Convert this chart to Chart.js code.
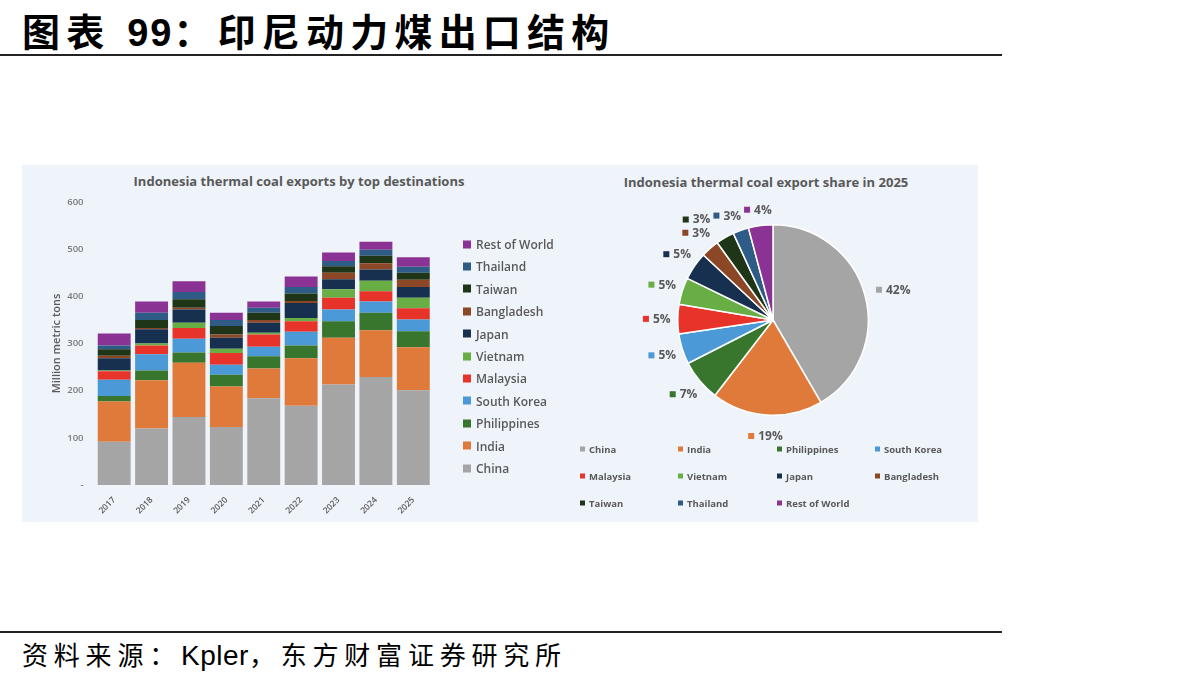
<!DOCTYPE html>
<html>
<head>
<meta charset="utf-8">
<script src="https://cdn.jsdelivr.net/npm/chart.js@4"></script>
<style>
  body { margin: 0; width: 1192px; height: 685px; background: #fff; position: relative; overflow: hidden; }
  .abs { position: absolute; }
  #title { left: 22px; top: 2px; font: 700 38px "Liberation Sans", "Noto Sans CJK SC", sans-serif; letter-spacing: 6.2px; color: #000; white-space: nowrap; }
  #title span { letter-spacing: 2px; }
  .rule { left: 0; width: 1002px; height: 2px; background: #222; }
  #source { left: 22px; top: 635px; font: 400 26px "Liberation Sans", "Noto Sans CJK SC", sans-serif; letter-spacing: 5.8px; color: #000; white-space: nowrap; }
  #source span { letter-spacing: 0.5px; font-size: 28px; }
  #panel { left: 22px; top: 165px; width: 956px; height: 357px; background: #eff3fa; }
  .ctitle { font: 700 13px "Open Sans", sans-serif; color: #595959; white-space: nowrap; transform: translate(-50%, -50%); }
  .leg { font: 600 12px "Open Sans", sans-serif; color: #595959; white-space: nowrap; display: flex; align-items: center; transform: translateY(-50%); }
  .leg i { display: inline-block; width: 8px; height: 8px; margin-right: 5px; }
  .pleg { font: 700 9.5px "Open Sans", sans-serif; color: #595959; white-space: nowrap; display: flex; align-items: center; transform: translateY(-50%); }
  .pleg i { display: inline-block; width: 5px; height: 5px; margin-right: 4px; }
</style>
</head>
<body>
<div id="title" class="abs">图表 <span>99</span>：印尼动力煤出口结构</div>
<div class="abs rule" style="top:54px"></div>
<div id="panel" class="abs"></div>
<div class="abs ctitle" style="left:299px; top:181px">Indonesia thermal coal exports by top destinations</div>
<div class="abs ctitle" style="left:766px; top:182px">Indonesia thermal coal export share in 2025</div>
<canvas id="barChart" class="abs" style="left:22px; top:165px" width="540" height="357"></canvas>
<canvas id="pieChart" class="abs" style="left:560px; top:165px" width="418" height="357"></canvas>
<div id="barLegend"></div>
<div id="pieLegend"></div>
<div class="abs rule" style="top:631px"></div>
<div id="source" class="abs">资料来源：<span>Kpler</span>，东方财富证券研究所</div>

<script>
const years = ["2017", "2018", "2019", "2020", "2021", "2022", "2023", "2024", "2025"];
const destinations = ["China", "India", "Philippines", "South Korea", "Malaysia", "Vietnam", "Japan", "Bangladesh", "Taiwan", "Thailand", "Rest of World"];

// million metric tons
const china = [92, 120, 144, 123, 184, 168, 213, 229, 201];
const india = [85, 102, 115, 86, 63, 101, 99, 99, 91];
const philippines = [12, 21, 22, 25, 26, 27, 35, 37, 34];
const southKorea = [34, 34, 29, 21, 20, 29, 25, 24, 25];
const malaysia = [18, 19, 23, 25, 26, 22, 25, 22, 24];
const vietnam = [2, 4, 11, 9, 4, 7, 18, 22, 22];
const japan = [26, 30, 28, 23, 21, 32, 21, 24, 23];
const bangladesh = [5, 3, 4, 7, 6, 4, 14, 13, 15];
const taiwan = [14, 17, 18, 18, 15, 16, 14, 16, 15];
const thailand = [8, 15, 15, 13, 11, 14, 11, 13, 13];
const restOfWorld = [25, 24, 23, 15, 13, 22, 18, 17, 20];

const yTicks = [0, 100, 200, 300, 400, 500, 600];

const colors = ["#a5a5a5", "#e07a3b", "#38752d", "#4b99d6", "#e8332a", "#69ae45", "#17304f", "#8c4727", "#1e3518", "#2f5c86", "#8b3395"];
const series = [china, india, philippines, southKorea, malaysia, vietnam, japan, bangladesh, taiwan, thailand, restOfWorld];

const grayText = "#595959";

// bar chart
new Chart(document.getElementById("barChart"), {
  type: "bar",
  data: {
    labels: years,
    datasets: destinations.map((name, i) => ({
      label: name,
      data: series[i],
      backgroundColor: colors[i],
      borderWidth: 0,
      barPercentage: 0.88,
      categoryPercentage: 1
    }))
  },
  options: {
    responsive: false,
    animation: false,
    layout: { padding: { top: 37, left: 28, right: 130, bottom: 4 } },
    plugins: {
      legend: { display: false },
      tooltip: { enabled: false }
    },
    scales: {
      x: {
        stacked: true,
        grid: { display: false },
        border: { display: false },
        ticks: {
          color: grayText,
          font: { family: "Open Sans", size: 8.5, weight: "600" },
          minRotation: 45,
          maxRotation: 45,
          padding: 2
        }
      },
      y: {
        stacked: true,
        min: yTicks[0],
        max: yTicks[yTicks.length - 1],
        afterBuildTicks: axis => { axis.ticks = yTicks.map(v => ({ value: v })); },
        grid: { display: false },
        border: { display: false },
        ticks: {
          color: "#7a7a7a",
          font: { family: "Open Sans", size: 9.5, weight: "600" },
          padding: 4,
          callback: v => v === 0 ? "-" : v
        },
        title: {
          display: true,
          text: "Million metric tons",
          color: grayText,
          font: { family: "Open Sans", size: 11, weight: "600" },
          padding: { top: 0, bottom: 0 }
        }
      }
    }
  }
});

// bar legend, reversed like the stack
const barLegend = document.getElementById("barLegend");
destinations.slice().reverse().forEach((name, k) => {
  const i = destinations.length - 1 - k;
  const d = document.createElement("div");
  d.className = "abs leg";
  d.style.left = "463px";
  d.style.top = (244 + k * 22.4) + "px";
  d.innerHTML = '<i style="background:' + colors[i] + '"></i>' + name;
  barLegend.appendChild(d);
});

// pie of the last year
const last = years.length - 1;
const share = series.map(s => s[last]);
const total = share.reduce((a, b) => a + b, 0);

const pieLabels = {
  id: "pieLabels",
  afterDatasetsDraw(chart) {
    const ctx = chart.ctx;
    const arcs = chart.getDatasetMeta(0).data;
    ctx.save();
    ctx.font = "700 12px 'Open Sans'";
    ctx.textBaseline = "middle";
    const placed = [];
    for (let i = arcs.length - 1; i >= 0; i--) {
      const a = arcs[i];
      const mid = (a.startAngle + a.endAngle) / 2;
      const r = a.outerRadius + 21;
      const text = Math.round(share[i] / total * 100) + "%";
      const w = 10 + ctx.measureText(text).width;
      let x = a.x + Math.cos(mid) * r + (Math.cos(mid) > 0.5 ? 8 : 0);
      const y = a.y + Math.sin(mid) * r + (Math.sin(mid) < -0.9 ? 5 : 0);
      // push left-side labels sideways if they hit the previous one
      if (x < a.x) {
        placed.forEach(p => {
          if (Math.abs(p.y - y) < 13 && x + w / 2 > p.x - p.w / 2 - 3 && x - w / 2 < p.x + p.w / 2) {
            x = p.x - p.w / 2 - 3 - w / 2;
          }
        });
      }
      placed.push({ x, y, w });
      const left = x - w / 2;
      ctx.fillStyle = colors[i];
      ctx.fillRect(left, y - 3, 6, 6);
      ctx.fillStyle = grayText;
      ctx.fillText(text, left + 10, y + 0.5);
    }
    ctx.restore();
  }
};

new Chart(document.getElementById("pieChart"), {
  type: "pie",
  data: {
    labels: destinations,
    datasets: [{
      data: share,
      backgroundColor: colors,
      borderColor: "#ffffff",
      borderWidth: 1.5
    }]
  },
  options: {
    responsive: false,
    animation: false,
    layout: { padding: { left: 117, right: 109, top: 59, bottom: 106 } },
    plugins: {
      legend: { display: false },
      tooltip: { enabled: false }
    }
  },
  plugins: [pieLabels]
});

// pie legend, 4 columns
const pieLegend = document.getElementById("pieLegend");
const colX = [580, 678, 777, 875];
const rowY = [449, 476, 503];
destinations.forEach((name, i) => {
  const d = document.createElement("div");
  d.className = "abs pleg";
  d.style.left = colX[i % 4] + "px";
  d.style.top = rowY[Math.floor(i / 4)] + "px";
  d.innerHTML = '<i style="background:' + colors[i] + '"></i>' + name;
  pieLegend.appendChild(d);
});
</script>
</body>
</html>
